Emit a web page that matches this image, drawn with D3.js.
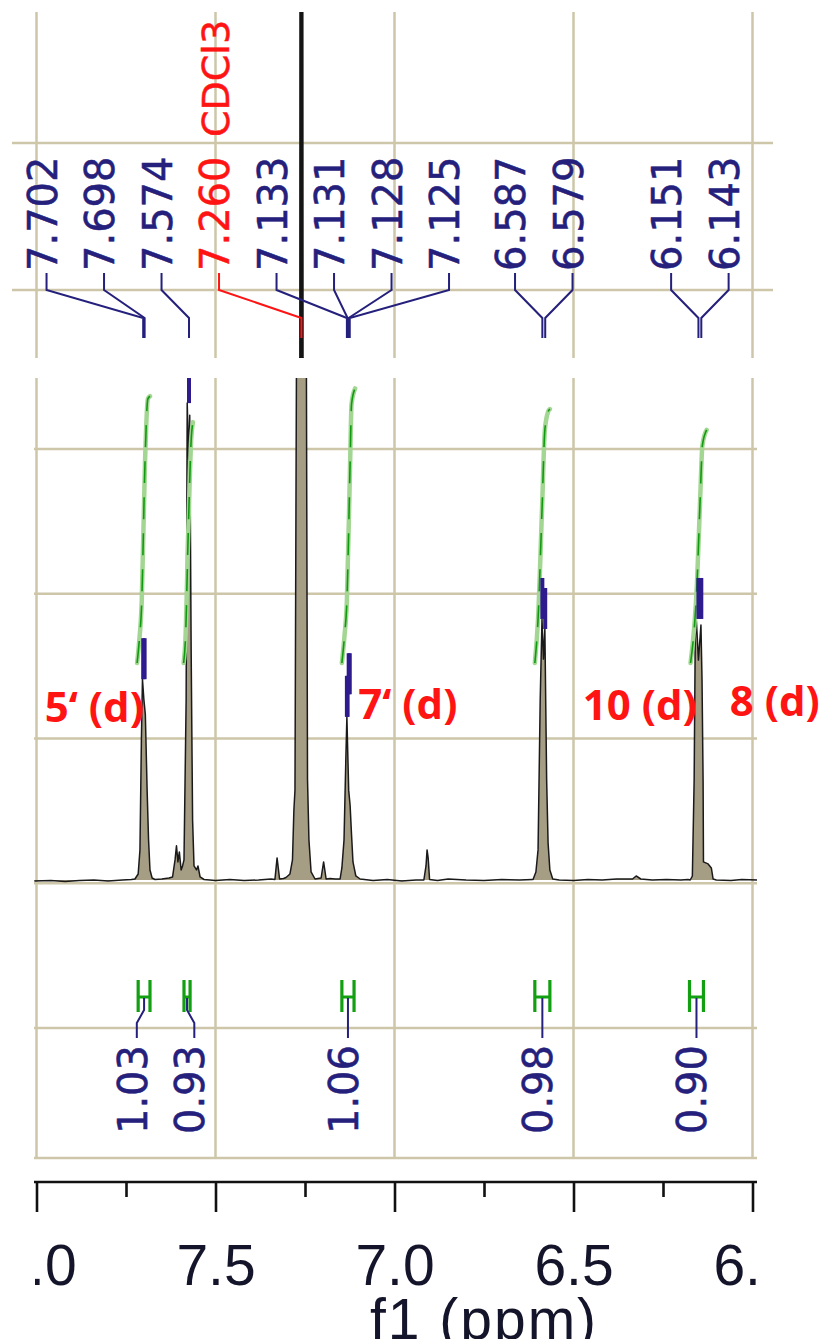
<!DOCTYPE html>
<html><head><meta charset="utf-8">
<script src="https://cdn.jsdelivr.net/npm/d3@7"></script>
<style>body{margin:0;background:#fff} svg{display:block}</style>
</head><body>
<svg id="c" width="827" height="1339"></svg>
<script>
// ---------------- DATA ----------------
const majorTicks = [8.0, 7.5, 7.0, 6.5, 6.0];
const minorTicks = [7.75, 7.25, 6.75, 6.25];
const axisTitle = "f1 (ppm)";

const peakPpm    = [7.702, 7.698, 7.574, 7.260, 7.133, 7.131, 7.128, 7.125, 6.587, 6.579, 6.151, 6.143];
const peakLabels = ["7.702","7.698","7.574","7.260","7.133","7.131","7.128","7.125","6.587","6.579","6.151","6.143"];
const peakHeights = [40.0, 40.0, 95.0, null, 32.5, 32.5, 37.0, 37.0, 52.0, 50.0, 52.0, 52.0];
const solventLabel = "7.260";
const solventName = "CDCl3";

const integralFrom   = [7.716, 7.588, 7.147, 6.608, 6.176];
const integralTo     = [7.683, 7.571, 7.113, 6.566, 6.137];
const integralValues = [1.03, 0.93, 1.06, 0.98, 0.90];
const integralLabels = ["1.03", "0.93", "1.06", "0.98", "0.90"];
const integralCurves = [
  [[7.719,0],[7.714,0.07],[7.706,0.24],[7.697,0.77],[7.689,1.02],[7.683,1.03]],
  [[7.589,0],[7.584,0.09],[7.576,0.51],[7.568,0.86],[7.563,0.93]],
  [[7.147,0],[7.140,0.10],[7.133,0.24],[7.124,0.77],[7.120,1.00],[7.110,1.06]],
  [[6.608,0],[6.599,0.17],[6.588,0.59],[6.580,0.90],[6.571,0.97],[6.566,0.98]],
  [[6.173,0],[6.155,0.31],[6.146,0.64],[6.140,0.84],[6.128,0.90]]
];

const assignText = ["5‘ (d)", "7‘ (d)", "10 (d)", "8 (d)"];
const assignPpm  = [7.700, 7.129, 6.583, 6.147];

// spectrum trace [ppm, intensity %]
const spectrum = [
  [8.006,-0.2],[7.96,-0.1],[7.92,-0.3],[7.88,-0.1],[7.84,0.0],[7.80,-0.2],[7.76,0.0],[7.735,0.1],
  [7.725,0.2],[7.716,1.2],[7.711,6.0],[7.707,27.9],[7.704,40.0],[7.700,35.9],[7.696,33.0],[7.691,17.9],
  [7.687,8.0],[7.683,2.0],[7.677,0.4],[7.669,0.1],[7.650,0.2],[7.630,0.4],
  [7.620,0.6],[7.613,4.0],[7.609,6.8],[7.605,3.6],[7.601,5.6],[7.596,2.0],[7.592,2.8],
  [7.588,4.0],[7.582,35.9],[7.579,95.0],[7.575,83.7],[7.572,92.6],[7.568,45.8],[7.564,12.0],
  [7.560,2.8],[7.553,2.0],[7.549,2.8],[7.543,0.6],[7.532,0.1],
  [7.50,-0.1],[7.46,0.1],[7.42,-0.1],[7.38,0.0],[7.345,0.2],[7.334,0.1],[7.328,4.4],[7.321,0.2],[7.31,0.3],
  [7.303,0.5],[7.292,1.2],[7.285,4.0],[7.281,14.0],[7.278,17.9],[7.274,100],[7.265,104.2],
  [7.263,400],[7.257,400],[7.255,104.2],[7.246,100],[7.243,20.1],[7.239,8.0],[7.233,1.6],[7.222,0.2],
  [7.205,0.4],[7.198,3.6],[7.191,0.2],[7.18,0.3],[7.165,0.2],
  [7.152,0.2],[7.147,2.4],[7.141,8.0],[7.136,23.9],[7.133,32.5],[7.128,17.9],[7.124,14.9],
  [7.120,9.0],[7.116,3.6],[7.108,0.8],[7.096,0.2],
  [7.06,-0.1],[7.02,0.1],[6.98,-0.2],[6.94,0.0],[6.918,0.0],[6.912,2.8],[6.909,6.0],[6.906,4.4],
  [6.902,0.1],[6.88,-0.1],[6.85,0.2],[6.80,0.0],[6.75,-0.1],[6.70,0.1],[6.65,0.0],[6.615,0.1],
  [6.613,0.1],[6.605,1.6],[6.599,6.0],[6.593,35.9],[6.588,52.0],[6.584,44.0],[6.580,50.0],
  [6.575,19.9],[6.571,7.4],[6.566,2.0],[6.558,0.2],
  [6.54,0.0],[6.50,-0.1],[6.46,0.1],[6.42,0.0],[6.38,0.2],[6.335,0.2],[6.325,0.8],[6.312,0.2],
  [6.28,0.0],[6.24,0.1],[6.20,0.0],[6.18,0.1],
  [6.174,0.0],[6.168,0.8],[6.163,19.9],[6.160,47.8],[6.157,52.0],[6.151,43.8],[6.144,50.8],
  [6.141,40.0],[6.138,19.7],[6.137,3.6],[6.124,3.2],[6.115,2.4],[6.110,0.2],[6.101,0.0],
  [6.06,-0.1],[6.03,0.1],[5.985,0.0]
];

// ---------------- LAYOUT ----------------
const svg = d3.select("#c");
const x  = d3.scaleLinear().domain([8.0, 6.0]).range([36.5, 752.5]);
const yS = d3.scaleLinear().domain([0, 100]).range([880, 378]);
const yI = d3.scaleLinear().domain([0, 1]).range([663, 404]);
const gridCol = "#cdc6a8";
const ink = "#24207c";
const red = "#ff1414";
const labelFont = "DejaVu Sans, Verdana, sans-serif";

const defs = svg.append("defs");
defs.append("clipPath").attr("id","midClip").append("rect")
  .attr("x",34).attr("y",378).attr("width",723).attr("height",780);
defs.append("clipPath").attr("id","topClip").append("rect")
  .attr("x",12).attr("y",12).attr("width",761).attr("height",346);
defs.append("clipPath").attr("id","axClip").append("rect")
  .attr("x",35).attr("y",-10).attr("width",722).attr("height",170);

// grid – top panel
const gTop = svg.append("g");
gTop.selectAll("line.v").data(majorTicks).join("line")
  .attr("x1",d=>x(d)).attr("x2",d=>x(d)).attr("y1",12).attr("y2",358)
  .attr("stroke",gridCol).attr("stroke-width",2.5);
gTop.selectAll("line.h").data([143, 290]).join("line").attr("class","h")
  .attr("x1",12).attr("x2",773).attr("y1",d=>d).attr("y2",d=>d)
  .attr("stroke",gridCol).attr("stroke-width",2.5);

// grid – main panel
const gMid = svg.append("g");
gMid.selectAll("line.v").data(majorTicks).join("line").attr("class","v")
  .attr("x1",d=>x(d)).attr("x2",d=>x(d)).attr("y1",378).attr("y2",1158)
  .attr("stroke",gridCol).attr("stroke-width",2.5);
const rowY = d3.scaleLinear().domain([0,4]).range([449, 1028]);
gMid.selectAll("line.h").data(d3.range(5).map(rowY).concat([1158])).join("line").attr("class","h")
  .attr("x1",34).attr("x2",757).attr("y1",d=>d).attr("y2",d=>d)
  .attr("stroke",gridCol).attr("stroke-width",2.5);

// spectrum
const area = d3.area().x(d=>x(d[0])).y0(yS(0)).y1(d=>yS(d[1]));
const line = d3.line().x(d=>x(d[0])).y(d=>yS(d[1]));
const mid = svg.append("g").attr("clip-path","url(#midClip)");
mid.append("path").datum(spectrum).attr("d",area).attr("fill","#a69d85");
mid.append("path").datum(spectrum).attr("d",line).attr("fill","none")
  .attr("stroke","#1a1a1a").attr("stroke-width",1.5).attr("stroke-linejoin","round");
const topSpec = svg.append("g").attr("clip-path","url(#topClip)");
topSpec.append("path").datum(spectrum).attr("d",area).attr("fill","#151515");
topSpec.append("path").datum(spectrum).attr("d",line).attr("fill","none")
  .attr("stroke","#151515").attr("stroke-width",1);

// integral curves
const iline = d3.line().x(d=>x(d[0])).y(d=>yI(d[1])).curve(d3.curveMonotoneX);
integralCurves.forEach(c=>{
  mid.append("path").datum(c).attr("d",iline).attr("fill","none")
    .attr("stroke","#a3d693").attr("stroke-width",4.5).attr("stroke-linecap","round");
  mid.append("path").datum(c).attr("d",iline).attr("fill","none")
    .attr("stroke","#109a10").attr("stroke-width",1.6).attr("stroke-dasharray","22 14");
});

// peak markers
peakPpm.forEach((p,i)=>{
  if (peakHeights[i] == null) return;
  const y0 = yS(peakHeights[i]);
  mid.append("line").attr("x1",x(p)).attr("x2",x(p)).attr("y1",y0).attr("y2",y0-41)
    .attr("stroke","#2e1b8e").attr("stroke-width",4);
});

// label spreading
function spread(ideal, gap, clusterGap, thresh){
  const clusters = [];
  ideal.forEach((v,i)=>{
    const last = clusters[clusters.length-1];
    if (last && v - ideal[last.idx[last.idx.length-1]] < thresh) last.idx.push(i);
    else clusters.push({idx:[i]});
  });
  clusters.forEach(c=>{ c.start = d3.mean(c.idx.map((k,j)=>ideal[k]-j*gap)); c.n = c.idx.length; });
  for (let k = clusters.length-2; k >= 0; k--){
    const c = clusters[k], nx = clusters[k+1];
    if (c.start + (c.n-1)*gap + clusterGap > nx.start) c.start = nx.start - clusterGap - (c.n-1)*gap;
  }
  const pos = [];
  clusters.forEach(c=>c.idx.forEach((k,j)=>pos[k] = c.start + j*gap));
  return pos;
}

// top peak labels
const posTop = spread(peakPpm.map(x), 57.5, 66, 130);
peakPpm.forEach((p,i)=>{
  const col = peakLabels[i] === solventLabel ? red : ink;
  svg.append("path").attr("d",`M${posTop[i]},273V290L${x(p)},318V338`)
    .attr("fill","none").attr("stroke",col).attr("stroke-width",2);
  svg.append("text").attr("transform",`translate(${posTop[i]+10},271) rotate(-90)`)
    .attr("font-family",labelFont).attr("font-size",40).attr("fill",col)
    .attr("stroke",col).attr("stroke-width",0.5)
    .text(peakLabels[i]);
  if (peakLabels[i] === solventLabel){
    svg.append("text").attr("transform",`translate(${posTop[i]+10},137) rotate(-90)`)
      .attr("font-family",labelFont).attr("font-size",38).attr("fill",col)
      .attr("stroke",col).attr("stroke-width",0.5)
      .text(solventName);
  }
});

// integral regions and labels
const hx = integralFrom.map((f,i)=>(x(f)+x(integralTo[i]))/2);
const posBot = spread(hx, 57.5, 66, 130);
integralFrom.forEach((f,i)=>{
  const a = x(f), b = x(integralTo[i]);
  svg.append("path").attr("d",`M${a},980V1012M${b},980V1012M${a},997H${b}`)
    .attr("fill","none").attr("stroke","#12a012").attr("stroke-width",3.2);
  svg.append("path").attr("d",`M${hx[i]},998V1010L${posBot[i]},1023V1038`)
    .attr("fill","none").attr("stroke",ink).attr("stroke-width",2);
  svg.append("text").attr("transform",`translate(${posBot[i]+10},1045) rotate(-90)`)
    .attr("text-anchor","end")
    .attr("font-family",labelFont).attr("font-size",40).attr("fill",ink)
    .attr("stroke",ink).attr("stroke-width",0.5)
    .text(integralLabels[i]);
});

// assignment annotations
const assignLayout = [
  {dx:0, anchor:"end", y:722},
  {dx:10, anchor:"start", y:719},
  {dx:39, anchor:"start", y:720},
  {dx:30, anchor:"start", y:716}
];
assignText.forEach((t,i)=>{
  const L = assignLayout[i];
  svg.append("text").attr("x",x(assignPpm[i])+L.dx).attr("y",L.y)
    .attr("text-anchor",L.anchor)
    .attr("font-family","Open Sans, Liberation Sans, sans-serif")
    .attr("font-weight",700).attr("font-size",42).attr("fill",red)
    .text(t);
});

// x axis
const axG = svg.append("g").attr("transform","translate(0,1182)");
axG.append("line").attr("x1",34).attr("x2",757).attr("y1",0).attr("y2",0)
  .attr("stroke","#111").attr("stroke-width",2.6);
const major = axG.append("g").attr("clip-path","url(#axClip)")
  .call(d3.axisBottom(x).tickValues(majorTicks).tickSize(30).tickSizeOuter(0)
    .tickFormat(d3.format(".1f")));
const minor = axG.append("g")
  .call(d3.axisBottom(x).tickValues(minorTicks).tickSize(15).tickSizeOuter(0).tickFormat(""));
[major, minor].forEach(g=>{
  g.select(".domain").remove();
  g.selectAll(".tick line").attr("stroke","#111").attr("stroke-width",2.6);
});
major.selectAll(".tick text").attr("y",103).attr("dy",0)
  .attr("font-family","Liberation Sans, Arial, sans-serif").attr("font-size",57).attr("fill","#14142a");
svg.append("text").attr("x",484).attr("y",1339).attr("text-anchor","middle")
  .attr("font-family","Liberation Sans, Arial, sans-serif").attr("font-size",57)
  .attr("letter-spacing",2).attr("fill","#14142a")
  .text(axisTitle);
</script>
</body></html>
